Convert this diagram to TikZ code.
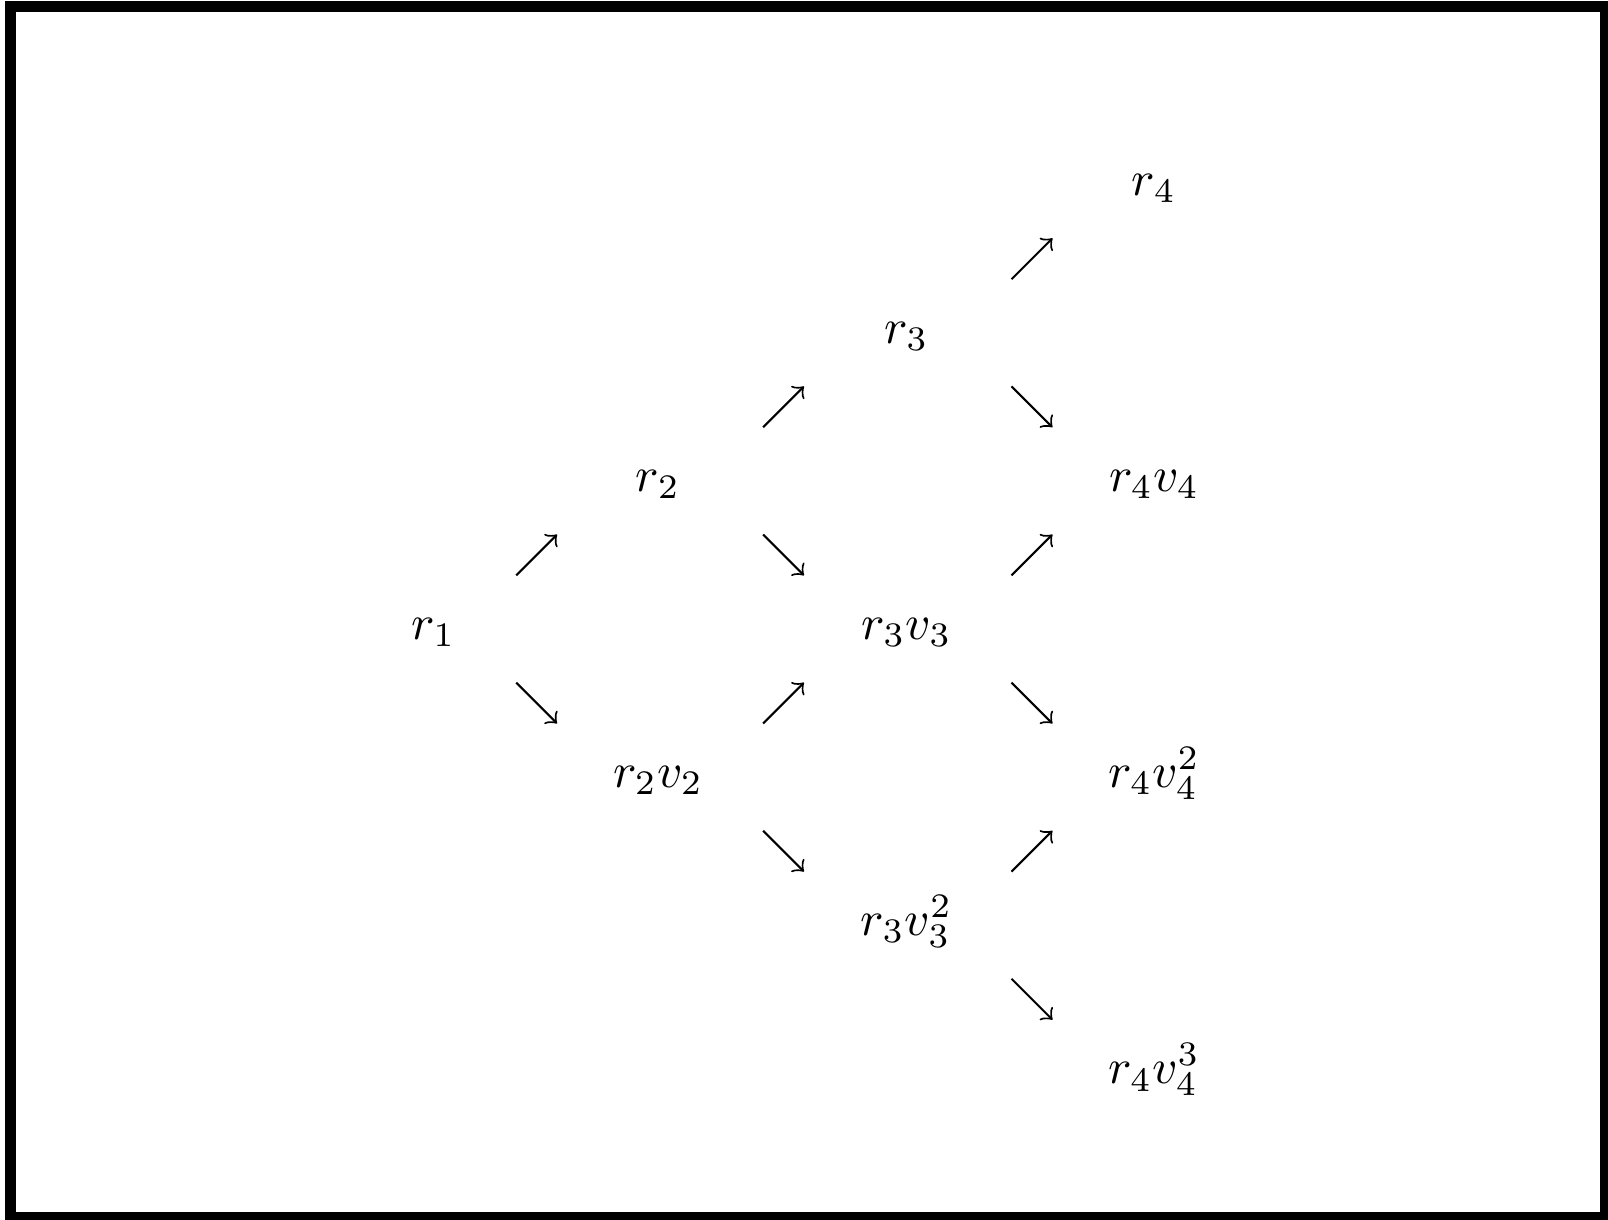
\documentclass[tikz,border=0pt]{standalone}
\usetikzlibrary{calc}
\tikzset{
    term/.style={inner sep=0pt,anchor=base},
    arr/.style={->,line width=0.4pt},
}
\newcommand{\termtext}[1]{\scalebox{0.944}{$#1$}}
\begin{document}
\begin{tikzpicture}
        % Define dimensions
        \def\picwidth{10.857}
        \def\picheight{8.231}
        \def\ah{0.138}
        \useasboundingbox (0,0) rectangle (\picwidth,\picheight);
        % Frame
        \draw[black, line width=2.11pt] (0.071,0.010) rectangle (10.841,8.187);
        % Terms, one column at a time
        \node[term] (r1) at (2.927,3.914) {\termtext{r_1}};
        \node[term] (r2) at (4.443,4.914) {\termtext{r_2}};
        \node[term] (r2v2) at (4.443,2.914) {\termtext{r_2v_2}};
        \node[term] (r3) at (6.121,5.914) {\termtext{r_3}};
        \node[term] (r3v3) at (6.121,3.914) {\termtext{r_3v_3}};
        \node[term] (r3v32) at (6.121,1.914) {\termtext{r_3v_3^2}};
        \node[term] (r4) at (7.792,6.914) {\termtext{r_4}};
        \node[term] (r4v4) at (7.792,4.914) {\termtext{r_4v_4}};
        \node[term] (r4v42) at (7.792,2.914) {\termtext{r_4v_4^2}};
        \node[term] (r4v43) at (7.792,0.914) {\termtext{r_4v_4^3}};
        % Arrow centres
        \foreach \n/\x/\y in {a1/3.623/4.484, b1/3.623/3.484,
                              a2/5.290/5.484, b2/5.290/4.484, a3/5.290/3.484, b3/5.290/2.484,
                              a4/6.968/6.484, b4/6.968/5.484, a5/6.968/4.484, b5/6.968/3.484,
                              a6/6.968/2.484, b6/6.968/1.484}
            \coordinate (\n) at (\x,\y);
        % Up arrows
        \foreach \n in {a1,a2,a3,a4,a5,a6}
            \draw[arr] ([shift={(-\ah,-\ah)}]\n) -- ([shift={(\ah,\ah)}]\n);
        % Down arrows
        \foreach \n in {b1,b2,b3,b4,b5,b6}
            \draw[arr] ([shift={(-\ah,\ah)}]\n) -- ([shift={(\ah,-\ah)}]\n);
    \end{tikzpicture}
\end{document}
